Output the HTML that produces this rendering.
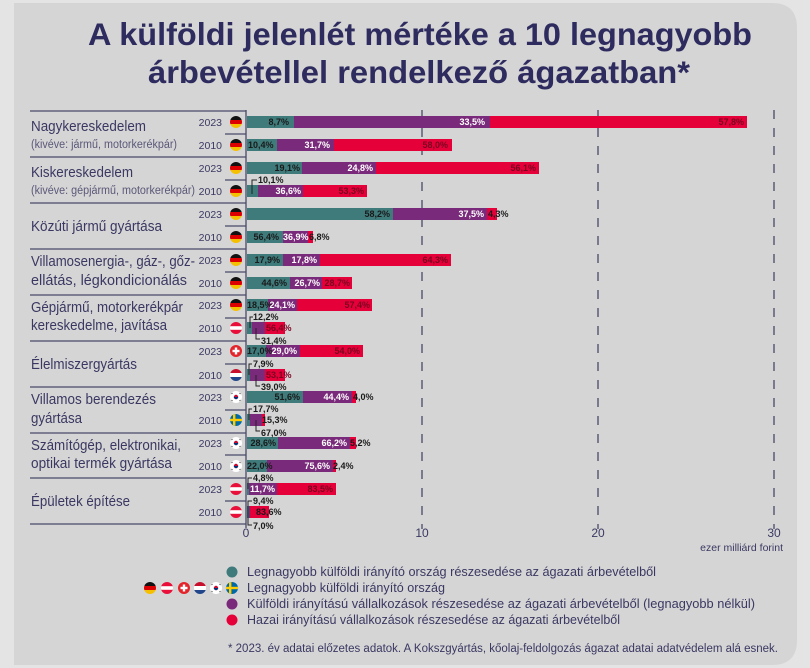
<!DOCTYPE html>
<html><head><meta charset="utf-8"><style>
html,body{margin:0;padding:0;background:#e4e4e4;}
svg{display:block;font-family:"Liberation Sans",sans-serif;}
.v{font-size:9px;font-weight:bold;}
.d{fill:#1a1a1a}.w{fill:#fff}.r{fill:#7a0020}
.cat{font-size:14.5px;fill:#3a3862}
.sub{font-size:11.5px;fill:#5a5878}
.yr{font-size:10.5px;fill:#3a3862;text-anchor:end}
.lg{font-size:13px;fill:#3a3862}
</style></head><body>
<svg width="810" height="668" viewBox="0 0 810 668">
<defs>
<clipPath id="c"><circle cx="0" cy="0" r="6"/></clipPath>
<g id="DE" clip-path="url(#c)"><rect x="-6" y="-6" width="12" height="4" fill="#111"/><rect x="-6" y="-2" width="12" height="4" fill="#d00"/><rect x="-6" y="2" width="12" height="4" fill="#f5c000"/></g>
<g id="AT" clip-path="url(#c)"><rect x="-6" y="-6" width="12" height="12" fill="#e8103a"/><rect x="-6" y="-1.8" width="12" height="3.6" fill="#fff"/></g>
<g id="CH"><circle r="6" fill="#e3242b"/><rect x="-1.2" y="-3.5" width="2.4" height="7" fill="#fff"/><rect x="-3.5" y="-1.2" width="7" height="2.4" fill="#fff"/></g>
<g id="NL" clip-path="url(#c)"><rect x="-6" y="-6" width="12" height="4" fill="#c8102e"/><rect x="-6" y="-2" width="12" height="4" fill="#fff"/><rect x="-6" y="2" width="12" height="4" fill="#21468b"/></g>
<g id="KR"><circle r="6" fill="#fff"/><circle r="2.2" fill="#c60c30"/><path d="M-2.2 0a2.2 2.2 0 0 0 4.4 0z" fill="#003478"/><path d="M-4.5 -3l1 -1M3.5 -4l1 1M-4.5 3l1 1M3.5 4l1 -1" stroke="#333" stroke-width="0.8"/></g>
<g id="SE" clip-path="url(#c)"><rect x="-6" y="-6" width="12" height="12" fill="#006aa7"/><rect x="-3" y="-6" width="2.4" height="12" fill="#fecc00"/><rect x="-6" y="-1.2" width="12" height="2.4" fill="#fecc00"/></g>
</defs>
<rect x="0" y="0" width="810" height="668" fill="#e4e4e4"/>
<path d="M14 3 H772 Q797 3 797 28 V640 Q797 665 772 665 H14 Z" fill="#d5d5d5"/>
<text x="420" y="45" text-anchor="middle" font-size="31.5" font-weight="bold" fill="#2e2b5f" textLength="664" lengthAdjust="spacingAndGlyphs">A külföldi jelenlét mértéke a 10 legnagyobb</text>
<text x="419" y="83" text-anchor="middle" font-size="31.5" font-weight="bold" fill="#2e2b5f" textLength="542" lengthAdjust="spacingAndGlyphs">árbevétellel rendelkező ágazatban*</text>

<!-- grid -->
<g stroke="#4a4a6a" stroke-width="1.3" stroke-dasharray="9,9">
<line x1="422" y1="110" x2="422" y2="524"/><line x1="598" y1="110" x2="598" y2="524"/><line x1="774" y1="110" x2="774" y2="524"/></g>
<g stroke="#4a4a6a" stroke-width="1.3">
<line x1="422" y1="524" x2="422" y2="529"/><line x1="598" y1="524" x2="598" y2="529"/><line x1="774" y1="524" x2="774" y2="529"/>
<line x1="246" y1="110" x2="246" y2="528"/>
<line x1="30" y1="111" x2="246" y2="111"/><line x1="30" y1="157" x2="246" y2="157"/><line x1="30" y1="203" x2="246" y2="203"/><line x1="30" y1="249" x2="246" y2="249"/><line x1="30" y1="295" x2="246" y2="295"/><line x1="30" y1="341" x2="246" y2="341"/><line x1="30" y1="387" x2="246" y2="387"/><line x1="30" y1="433" x2="246" y2="433"/><line x1="30" y1="478" x2="246" y2="478"/><line x1="30" y1="524" x2="246" y2="524"/>
<line x1="225" y1="134" x2="246" y2="134"/><line x1="225" y1="180" x2="246" y2="180"/><line x1="225" y1="226" x2="246" y2="226"/><line x1="225" y1="272" x2="246" y2="272"/><line x1="225" y1="318" x2="246" y2="318"/><line x1="225" y1="364" x2="246" y2="364"/><line x1="225" y1="410" x2="246" y2="410"/><line x1="225" y1="455" x2="246" y2="455"/><line x1="225" y1="501" x2="246" y2="501"/>
</g>

<!-- categories -->
<g lengthAdjust="spacingAndGlyphs">
<text class="cat" x="31" y="131" textLength="115" lengthAdjust="spacingAndGlyphs">Nagykereskedelem</text><text class="sub" x="31" y="148" textLength="146" lengthAdjust="spacingAndGlyphs">(kivéve: jármű, motorkerékpár)</text>
<text class="cat" x="31" y="177" textLength="102" lengthAdjust="spacingAndGlyphs">Kiskereskedelem</text><text class="sub" x="31" y="194" textLength="164" lengthAdjust="spacingAndGlyphs">(kivéve: gépjármű, motorkerékpár)</text>
<text class="cat" x="31" y="231" textLength="131" lengthAdjust="spacingAndGlyphs">Közúti jármű gyártása</text>
<text class="cat" x="31" y="266" textLength="164" lengthAdjust="spacingAndGlyphs">Villamosenergia-, gáz-, gőz-</text><text class="cat" x="31" y="285" textLength="156" lengthAdjust="spacingAndGlyphs">ellátás, légkondicionálás</text>
<text class="cat" x="31" y="312" textLength="152" lengthAdjust="spacingAndGlyphs">Gépjármű, motorkerékpár</text><text class="cat" x="31" y="330" textLength="136" lengthAdjust="spacingAndGlyphs">kereskedelme, javítása</text>
<text class="cat" x="31" y="369" textLength="106" lengthAdjust="spacingAndGlyphs">Élelmiszergyártás</text>
<text class="cat" x="31" y="404" textLength="125" lengthAdjust="spacingAndGlyphs">Villamos berendezés</text><text class="cat" x="31" y="423" textLength="51" lengthAdjust="spacingAndGlyphs">gyártása</text>
<text class="cat" x="31" y="450" textLength="150" lengthAdjust="spacingAndGlyphs">Számítógép, elektronikai,</text><text class="cat" x="31" y="468" textLength="141" lengthAdjust="spacingAndGlyphs">optikai termék gyártása</text>
<text class="cat" x="31" y="506" textLength="99" lengthAdjust="spacingAndGlyphs">Épületek építése</text>
</g>

<!-- years -->
<g class="yr">
<text x="222" y="126">2023</text><text x="222" y="149">2010</text><text x="222" y="172">2023</text><text x="222" y="195">2010</text><text x="222" y="218">2023</text><text x="222" y="241">2010</text><text x="222" y="264">2023</text><text x="222" y="287">2010</text><text x="222" y="309">2023</text><text x="222" y="332">2010</text><text x="222" y="355">2023</text><text x="222" y="379">2010</text><text x="222" y="401">2023</text><text x="222" y="424">2010</text><text x="222" y="447">2023</text><text x="222" y="470">2010</text><text x="222" y="493">2023</text><text x="222" y="516">2010</text>
</g>
<use href="#DE" x="236" y="122"/><use href="#DE" x="236" y="145"/><use href="#DE" x="236" y="168"/><use href="#DE" x="236" y="191"/><use href="#DE" x="236" y="214"/><use href="#DE" x="236" y="237"/><use href="#DE" x="236" y="260"/><use href="#DE" x="236" y="283"/><use href="#DE" x="236" y="305"/><use href="#AT" x="236" y="328"/><use href="#CH" x="236" y="351"/><use href="#NL" x="236" y="375"/><use href="#KR" x="236" y="397"/><use href="#SE" x="236" y="420"/><use href="#KR" x="236" y="443"/><use href="#KR" x="236" y="466"/><use href="#AT" x="236" y="489"/><use href="#AT" x="236" y="512"/>

<!-- bars -->
<g>
<rect x="247" y="116" width="47" height="12" fill="#3f7b7b"/><rect x="294" y="116" width="196" height="12" fill="#7a2a7a"/><rect x="490" y="116" width="257" height="12" fill="#e5003a"/>
<rect x="247" y="139" width="30" height="12" fill="#3f7b7b"/><rect x="277" y="139" width="57" height="12" fill="#7a2a7a"/><rect x="334" y="139" width="118" height="12" fill="#e5003a"/>
<rect x="247" y="162" width="55" height="12" fill="#3f7b7b"/><rect x="302" y="162" width="74" height="12" fill="#7a2a7a"/><rect x="376" y="162" width="163" height="12" fill="#e5003a"/>
<rect x="247" y="185" width="11" height="12" fill="#3f7b7b"/><rect x="258" y="185" width="45" height="12" fill="#7a2a7a"/><rect x="303" y="185" width="64" height="12" fill="#e5003a"/>
<rect x="247" y="208" width="146" height="12" fill="#3f7b7b"/><rect x="393" y="208" width="94" height="12" fill="#7a2a7a"/><rect x="487" y="208" width="10" height="12" fill="#e5003a"/>
<rect x="247" y="231" width="36" height="12" fill="#3f7b7b"/><rect x="283" y="231" width="25" height="12" fill="#7a2a7a"/><rect x="308" y="231" width="5" height="12" fill="#e5003a"/>
<rect x="247" y="254" width="36" height="12" fill="#3f7b7b"/><rect x="283" y="254" width="37" height="12" fill="#7a2a7a"/><rect x="320" y="254" width="131" height="12" fill="#e5003a"/>
<rect x="247" y="277" width="43" height="12" fill="#3f7b7b"/><rect x="290" y="277" width="32" height="12" fill="#7a2a7a"/><rect x="322" y="277" width="30" height="12" fill="#e5003a"/>
<rect x="247" y="299" width="21" height="12" fill="#3f7b7b"/><rect x="268" y="299" width="29" height="12" fill="#7a2a7a"/><rect x="297" y="299" width="75" height="12" fill="#e5003a"/>
<rect x="247" y="322" width="5" height="12" fill="#3f7b7b"/><rect x="252" y="322" width="13" height="12" fill="#7a2a7a"/><rect x="265" y="322" width="20" height="12" fill="#e5003a"/>
<rect x="247" y="345" width="19" height="12" fill="#3f7b7b"/><rect x="266" y="345" width="34" height="12" fill="#7a2a7a"/><rect x="300" y="345" width="63" height="12" fill="#e5003a"/>
<rect x="247" y="369" width="3" height="12" fill="#3f7b7b"/><rect x="250" y="369" width="15" height="12" fill="#7a2a7a"/><rect x="265" y="369" width="20" height="12" fill="#e5003a"/>
<rect x="247" y="391" width="56" height="12" fill="#3f7b7b"/><rect x="303" y="391" width="49" height="12" fill="#7a2a7a"/><rect x="352" y="391" width="4" height="12" fill="#e5003a"/>
<rect x="247" y="414" width="3" height="12" fill="#3f7b7b"/><rect x="250" y="414" width="12" height="12" fill="#7a2a7a"/><rect x="262" y="414" width="3" height="12" fill="#e5003a"/>
<rect x="247" y="437" width="31" height="12" fill="#3f7b7b"/><rect x="278" y="437" width="72" height="12" fill="#7a2a7a"/><rect x="350" y="437" width="6" height="12" fill="#e5003a"/>
<rect x="247" y="460" width="20" height="12" fill="#3f7b7b"/><rect x="267" y="460" width="66" height="12" fill="#7a2a7a"/><rect x="333" y="460" width="3" height="12" fill="#e5003a"/>
<rect x="247" y="483" width="2" height="12" fill="#3f7b7b"/><rect x="249" y="483" width="28" height="12" fill="#7a2a7a"/><rect x="277" y="483" width="59" height="12" fill="#e5003a"/>
<rect x="247" y="506" width="2" height="12" fill="#3f7b7b"/><rect x="249" y="506" width="1" height="12" fill="#7a2a7a"/><rect x="250" y="506" width="19" height="12" fill="#e5003a"/>
</g>

<!-- value labels -->
<g class="v">
<text class="d" x="289" y="125" text-anchor="end">8,7%</text><text class="w" x="485" y="125" text-anchor="end">33,5%</text><text class="r" x="744" y="125" text-anchor="end">57,8%</text>
<text class="d" x="248" y="148">10,4%</text><text class="w" x="330" y="148" text-anchor="end">31,7%</text><text class="r" x="448" y="148" text-anchor="end">58,0%</text>
<text class="d" x="300" y="171" text-anchor="end">19,1%</text><text class="w" x="373" y="171" text-anchor="end">24,8%</text><text class="r" x="536" y="171" text-anchor="end">56,1%</text>
<text class="d" x="258" y="183">10,1%</text><text class="w" x="301" y="194" text-anchor="end">36,6%</text><text class="r" x="364" y="194" text-anchor="end">53,3%</text>
<text class="d" x="390" y="217" text-anchor="end">58,2%</text><text class="w" x="484" y="217" text-anchor="end">37,5%</text><text class="d" x="488" y="217">4,3%</text>
<text class="d" x="279" y="240" text-anchor="end">56,4%</text><text class="w" x="283" y="240">36,9%</text><text class="d" x="309" y="240">6,8%</text>
<text class="d" x="280" y="263" text-anchor="end">17,9%</text><text class="w" x="317" y="263" text-anchor="end">17,8%</text><text class="r" x="448" y="263" text-anchor="end">64,3%</text>
<text class="d" x="287" y="286" text-anchor="end">44,6%</text><text class="w" x="320" y="286" text-anchor="end">26,7%</text><text class="r" x="350" y="286" text-anchor="end">28,7%</text>
<text class="d" x="247" y="308">18,5%</text><text class="w" x="295" y="308" text-anchor="end">24,1%</text><text class="r" x="370" y="308" text-anchor="end">57,4%</text>
<text class="d" x="253" y="320">12,2%</text><text class="r" x="266" y="331">56,4%</text><text class="d" x="261" y="344">31,4%</text>
<text class="d" x="247" y="354">17,0%</text><text class="w" x="297" y="354" text-anchor="end">29,0%</text><text class="r" x="360" y="354" text-anchor="end">54,0%</text>
<text class="d" x="253" y="367">7,9%</text><text class="r" x="266" y="378">53,1%</text><text class="d" x="261" y="390">39,0%</text>
<text class="d" x="300" y="400" text-anchor="end">51,6%</text><text class="w" x="349" y="400" text-anchor="end">44,4%</text><text class="d" x="353" y="400">4,0%</text>
<text class="d" x="253" y="412">17,7%</text><text class="d" x="262" y="423">15,3%</text><text class="d" x="261" y="436">67,0%</text>
<text class="d" x="276" y="446" text-anchor="end">28,6%</text><text class="w" x="347" y="446" text-anchor="end">66,2%</text><text class="d" x="350" y="446">5,2%</text>
<text class="d" x="247" y="469">22,0%</text><text class="w" x="330" y="469" text-anchor="end">75,6%</text><text class="d" x="333" y="469">2,4%</text>
<text class="d" x="253" y="481">4,8%</text><text class="w" x="250" y="492">11,7%</text><text class="r" x="333" y="492" text-anchor="end">83,5%</text>
<text class="d" x="253" y="504">9,4%</text><text class="d" x="256" y="515">83,6%</text><text class="d" x="253" y="529">7,0%</text>
</g>
<g stroke="#222" stroke-width="1" fill="none">
<path d="M252 194V180h5"/><path d="M250 328V317h3"/><path d="M256 328v11h4"/><path d="M249 375V364h3"/><path d="M256 375v11h4"/><path d="M249 420V409h3"/><path d="M256 420v11h4"/><path d="M248 489V478h4"/><path d="M248 512V501h4"/><path d="M248 512v13h4"/>
</g>

<!-- axis labels -->
<g font-size="12" fill="#3a3862" text-anchor="middle">
<text x="246" y="537">0</text><text x="422" y="537">10</text><text x="598" y="537">20</text><text x="774" y="537">30</text>
</g>
<text x="783" y="551" text-anchor="end" font-size="10.5" fill="#3a3862">ezer milliárd forint</text>

<!-- legend -->
<circle cx="232" cy="572" r="5.5" fill="#3f7b7b"/>
<use href="#SE" x="232" y="588"/>
<circle cx="232" cy="604" r="5.5" fill="#7a2a7a"/>
<circle cx="232" cy="620" r="5.5" fill="#e5003a"/>
<use href="#DE" x="150" y="588"/><use href="#AT" x="167" y="588"/><use href="#CH" x="184" y="588"/><use href="#NL" x="200" y="588"/><use href="#KR" x="216" y="588"/>
<g class="lg">
<text x="247" y="576" textLength="409" lengthAdjust="spacingAndGlyphs">Legnagyobb külföldi irányító ország részesedése az ágazati árbevételből</text>
<text x="247" y="592" textLength="198" lengthAdjust="spacingAndGlyphs">Legnagyobb külföldi irányító ország</text>
<text x="247" y="608" textLength="508" lengthAdjust="spacingAndGlyphs">Külföldi irányítású vállalkozások részesedése az ágazati árbevételből (legnagyobb nélkül)</text>
<text x="247" y="624" textLength="373" lengthAdjust="spacingAndGlyphs">Hazai irányítású vállalkozások részesedése az ágazati árbevételből</text>
</g>
<text x="228" y="652" font-size="11.5" fill="#3a3862" textLength="550" lengthAdjust="spacingAndGlyphs">* 2023. év adatai előzetes adatok. A Kokszgyártás, kőolaj-feldolgozás ágazat adatai adatvédelem alá esnek.</text>
</svg>
</body></html>
